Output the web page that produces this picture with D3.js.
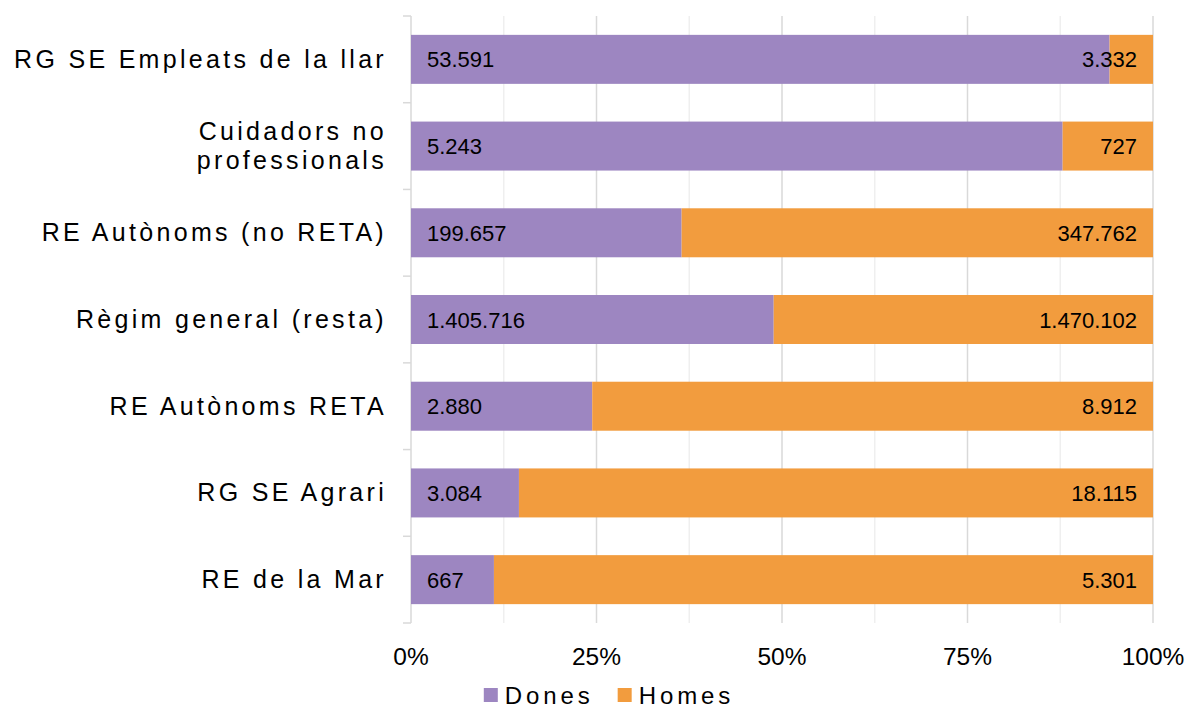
<!DOCTYPE html>
<html>
<head>
<meta charset="utf-8">
<script src="https://cdn.jsdelivr.net/npm/d3@7"></script>
<style>
    html, body { margin: 0; padding: 0; background: #fff; }
    svg { display: block; font-family: "Liberation Sans", Arial, sans-serif; }
</style>
</head>
<body>
<script>
const categories = [
    'RG SE Empleats de la llar',
    'Cuidadors no professionals',
    'RE Autònoms (no RETA)',
    'Règim general (resta)',
    'RE Autònoms RETA',
    'RG SE Agrari',
    'RE de la Mar'
];
const dones = [53591, 5243, 199657, 1405716, 2880, 3084, 667];
const homes = [3332, 727, 347762, 1470102, 8912, 18115, 5301];
const seriesNames = ['Dones', 'Homes'];
const seriesColors = ['#9d86c1', '#f29c3e'];
const xTicks = [0, 0.25, 0.5, 0.75, 1];
const xGrid = [0.125, 0.375, 0.625, 0.875];

let width = 1190, height = 707;
let margin = { top: 16, right: 37, bottom: 84, left: 411 };
let innerW = width - margin.left - margin.right,
    innerH = height - margin.top - margin.bottom;

let rows = categories.map((c, i) => ({ cat: c, Dones: dones[i], Homes: homes[i] }));
let stacked = d3.stack().keys(seriesNames).offset(d3.stackOffsetExpand)(rows);

let x = d3.scaleLinear().domain([0, 1]).range([0, innerW]);
let y = d3.scaleBand().domain(categories).range([0, innerH]).paddingInner(0.435).paddingOuter(0.2175);
let yTicks = d3.scaleBand().domain(categories).range([0, innerH]);

let locale = d3.formatLocale({ decimal: ',', thousands: '.', grouping: [3], currency: ['', ' €'] });
let fmt = locale.format(',d');

let svg = d3.select('body').append('svg').attr('width', width).attr('height', height);
let g = svg.append('g').attr('transform', `translate(${margin.left}, ${margin.top})`);

// grid
g.selectAll('.minor').data(xGrid).join('line')
    .attr('x1', d => x(d)).attr('x2', d => x(d))
    .attr('y1', 0).attr('y2', innerH)
    .attr('stroke', '#efefef').attr('stroke-width', 1.5);
g.selectAll('.major').data(xTicks.slice(1)).join('line')
    .attr('x1', d => x(d)).attr('x2', d => x(d))
    .attr('y1', 0).attr('y2', innerH)
    .attr('stroke', '#d9d9d9').attr('stroke-width', 1.5);

// left axis with ticks at category boundaries
let bounds = categories.map(c => yTicks(c)).concat([innerH]);
g.append('line').attr('x1', 0).attr('x2', 0).attr('y1', 0).attr('y2', innerH)
    .attr('stroke', '#d9d9d9').attr('stroke-width', 1.5);
g.selectAll('.ytick').data(bounds).join('line')
    .attr('x1', -8).attr('x2', 0)
    .attr('y1', d => d).attr('y2', d => d)
    .attr('stroke', '#d9d9d9').attr('stroke-width', 1.5);

// bars
g.selectAll('.serie').data(stacked).join('g')
    .attr('fill', (d, i) => seriesColors[i])
    .selectAll('rect').data(d => d).join('rect')
    .attr('x', d => x(d[0]))
    .attr('width', d => x(d[1]) - x(d[0]))
    .attr('y', d => y(d.data.cat))
    .attr('height', y.bandwidth());

// value labels
g.selectAll('.vl-d').data(rows).join('text')
    .attr('x', 16).attr('y', d => y(d.cat) + y.bandwidth() / 2 + 8)
    .attr('font-size', 22).attr('fill', '#000')
    .text(d => fmt(d.Dones));
g.selectAll('.vl-h').data(rows).join('text')
    .attr('x', innerW - 16).attr('y', d => y(d.cat) + y.bandwidth() / 2 + 8)
    .attr('text-anchor', 'end')
    .attr('font-size', 22).attr('fill', '#000')
    .text(d => fmt(d.Homes));

// category labels, wrapped
let labels = g.selectAll('.cat').data(categories).join('text')
    .attr('text-anchor', 'end')
    .attr('font-size', 25).attr('letter-spacing', 3.3).attr('fill', '#000');
labels.each(function (c) {
    let t = d3.select(this);
    let words = c.split(' '), lines = [], line = [];
    let probe = t.append('tspan');
    words.forEach(w => {
        let test = line.concat([w]).join(' ');
        probe.text(test);
        if (probe.node().getComputedTextLength() > 379 && line.length) {
            lines.push(line.join(' '));
            line = [w];
        } else line.push(w);
    });
    lines.push(line.join(' '));
    probe.remove();
    let lh = 28.5;
    let cy = yTicks(c) + yTicks.bandwidth() / 2 + 8.5 - (lines.length - 1) * lh / 2;
    lines.forEach((l, i) => {
        t.append('tspan').attr('x', -24).attr('y', cy + i * lh).text(l);
    });
});

// x axis labels
g.selectAll('.xl').data(xTicks).join('text')
    .attr('x', d => x(d)).attr('y', innerH + 42)
    .attr('text-anchor', 'middle')
    .attr('font-size', 24.5).attr('fill', '#000')
    .text(d3.format('.0%'));

// legend
let legend = svg.append('g');
let lx = 0;
seriesNames.forEach((s, i) => {
    let item = legend.append('g').attr('transform', `translate(${lx}, 0)`);
    item.append('rect').attr('x', 0).attr('y', -7).attr('width', 14).attr('height', 14)
        .attr('fill', seriesColors[i]);
    let txt = item.append('text').attr('x', 21).attr('y', 8.5)
        .attr('font-size', 24).attr('letter-spacing', 3.9).attr('fill', '#000')
        .text(s);
    lx += 21 + txt.node().getComputedTextLength() + 24;
});
let lw = lx - 24;
legend.attr('transform', `translate(${609 - lw / 2}, 695)`);
</script>
</body>
</html>
